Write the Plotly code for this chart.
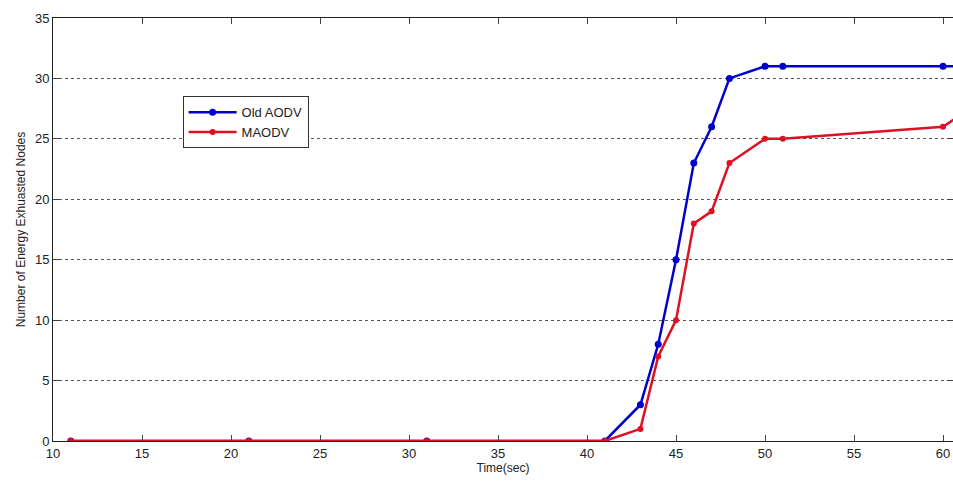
import plotly.graph_objects as go

time = [11, 21, 31, 41, 43, 44, 45, 46, 47, 48, 50, 51, 60, 61]
old_aodv = [0, 0, 0, 0, 3, 8, 15, 23, 26, 30, 31, 31, 31, 31]
maodv = [0, 0, 0, 0, 1, 7, 10, 18, 19, 23, 25, 25, 26, 27]
x_ticks = [10, 15, 20, 25, 30, 35, 40, 45, 50, 55, 60]
y_ticks = [0, 5, 10, 15, 20, 25, 30, 35]

fig = go.Figure()
fig.add_trace(go.Scatter(x=time, y=old_aodv, mode="lines+markers", name="Old AODV",
                         line=dict(color="#0000CC", width=2.5),
                         marker=dict(symbol="circle", size=7, color="#0000CC")))
fig.add_trace(go.Scatter(x=time, y=maodv, mode="lines+markers", name="MAODV",
                         line=dict(color="#DD1122", width=2.5),
                         marker=dict(symbol="circle", size=6, color="#DD1122")))

fig.update_layout(
    width=953, height=481,
    margin=dict(l=53, r=0, t=18, b=40, autoexpand=False),
    paper_bgcolor="white", plot_bgcolor="white",
    font=dict(family="Liberation Sans, Arial, sans-serif", size=13, color="#222"),
    showlegend=True,
    legend=dict(x=0.144, y=0.815, xanchor="left", yanchor="top",
                bgcolor="white", bordercolor="#333", borderwidth=1,
                font=dict(size=13, color="#222"), tracegroupgap=0,
                itemwidth=48),
    xaxis=dict(range=[10, 60.56], tickvals=x_ticks, ticks="inside", ticklen=6,
               tickcolor="#444", showline=True, linecolor="#222", linewidth=1,
               mirror="ticks", showgrid=False, zeroline=False, automargin=False,
               title=dict(text="Time(sec)", font=dict(size=12), standoff=0),
               tickfont=dict(size=13)),
    yaxis=dict(range=[0, 35], tickvals=y_ticks, ticks="inside", ticklen=6,
               tickcolor="#444", showline=True, linecolor="#222", linewidth=1,
               mirror="ticks", showgrid=True, gridcolor="#555", griddash="dot",
               gridwidth=1, zeroline=False, automargin=False,
               title=dict(text="Number of Energy Exhuasted Nodes", font=dict(size=12), standoff=6),
               tickfont=dict(size=13)),
)

fig.write_html("out.html", config={"displayModeBar": False},
               post_script="document.body.style.margin='0';document.body.style.overflow='hidden';")
